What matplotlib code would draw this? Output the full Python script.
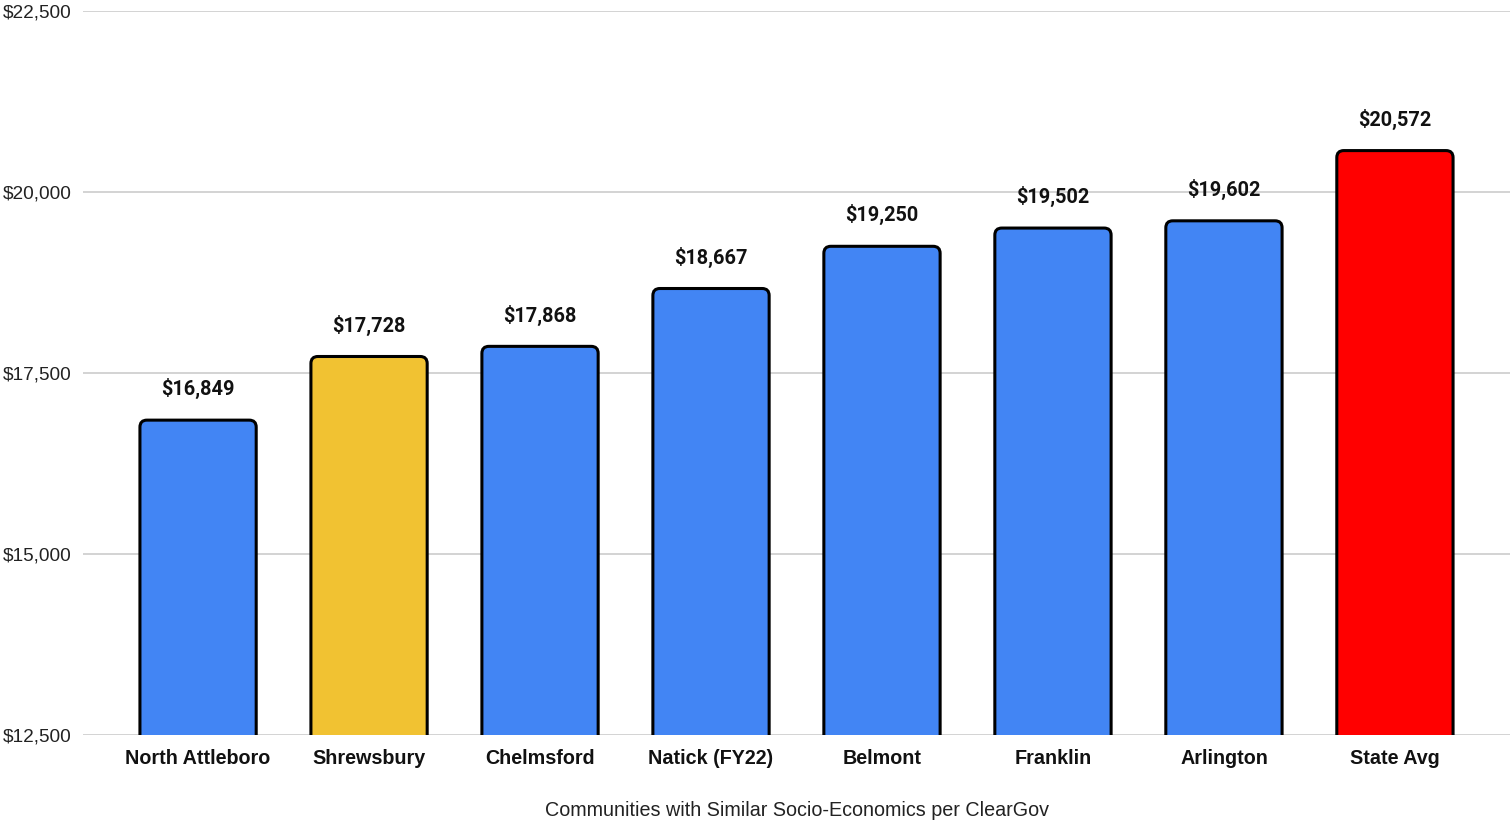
import matplotlib
matplotlib.use("Agg")
import matplotlib.pyplot as plt
from matplotlib.patches import FancyBboxPatch
from matplotlib.ticker import FuncFormatter

categories = ["North Attleboro", "Shrewsbury", "Chelmsford", "Natick (FY22)",
              "Belmont", "Franklin", "Arlington", "State Avg"]
values = [16849, 17728, 17868, 18667, 19250, 19502, 19602, 20572]
colors = ["#4285F4", "#F1C232", "#4285F4", "#4285F4", "#4285F4",
          "#4285F4", "#4285F4", "#FF0000"]
y_ticks = [12500, 15000, 17500, 20000, 22500]
x_title = "Communities with Similar Socio-Economics per ClearGov"

W, H = 1510, 821
fig = plt.figure(figsize=(W / 100, H / 100), dpi=100)
ax = fig.add_axes([83 / W, 1 - 735 / H, (1510 - 83) / W, (735 - 11) / H])

ymin, ymax = 12500, 22500
ax.set_ylim(ymin, ymax)
ax.set_xlim(-0.673, len(categories) - 1 + 0.673)

bar_w = 0.68
bars = ax.bar(range(len(categories)), [v - ymin for v in values], bottom=ymin,
              width=bar_w, color=colors)

# replace bars with rounded patches
ax_w_px = (1510 - 83)
ax_h_px = (735 - 11)
x_per_px = (ax.get_xlim()[1] - ax.get_xlim()[0]) / ax_w_px
y_per_px = (ymax - ymin) / ax_h_px
aspect = y_per_px / x_per_px
r_px = 7
for b, c in zip(bars, colors):
    x0, w = b.get_x(), b.get_width()
    top = b.get_y() + b.get_height()
    bottom = ymin - 30 * y_per_px
    b.set_visible(False)
    p = FancyBboxPatch((x0, bottom), w, top - bottom,
                       boxstyle=f"round,pad=0,rounding_size={r_px * x_per_px}",
                       mutation_aspect=aspect,
                       facecolor=c, edgecolor="black", linewidth=2.2,
                       zorder=3, clip_on=True)
    ax.add_patch(p)

for i, v in enumerate(values):
    ax.annotate(f"${v:,}", (i, v), xytext=(0, 15), textcoords="offset points",
                ha="center", va="bottom", fontsize=14.3, fontweight="bold",
                family="Roboto", color="#111111")

ax.set_yticks(y_ticks)
ax.yaxis.set_major_formatter(FuncFormatter(lambda v, p: f"${int(v):,}"))
ax.set_xticks(range(len(categories)))
ax.set_xticklabels(categories, fontsize=14.2, fontweight="bold",
                   family="Liberation Sans", color="#111111")
for lab in ax.get_yticklabels():
    lab.set_family("Liberation Sans")
    lab.set_fontsize(13.7)
    lab.set_color("#222222")
ax.tick_params(axis="y", length=0, pad=8)
ax.tick_params(axis="x", length=0, pad=10)

ax.grid(axis="y", color="#cccccc", linewidth=1.2, zorder=0)
ax.set_axisbelow(True)
for s in ax.spines.values():
    s.set_visible(False)

fig.text(797 / W, 1 - 810 / H, x_title, ha="center", va="center",
         fontsize=14.2, family="Liberation Sans", color="#222222")

fig.savefig("out.png", dpi=100)
